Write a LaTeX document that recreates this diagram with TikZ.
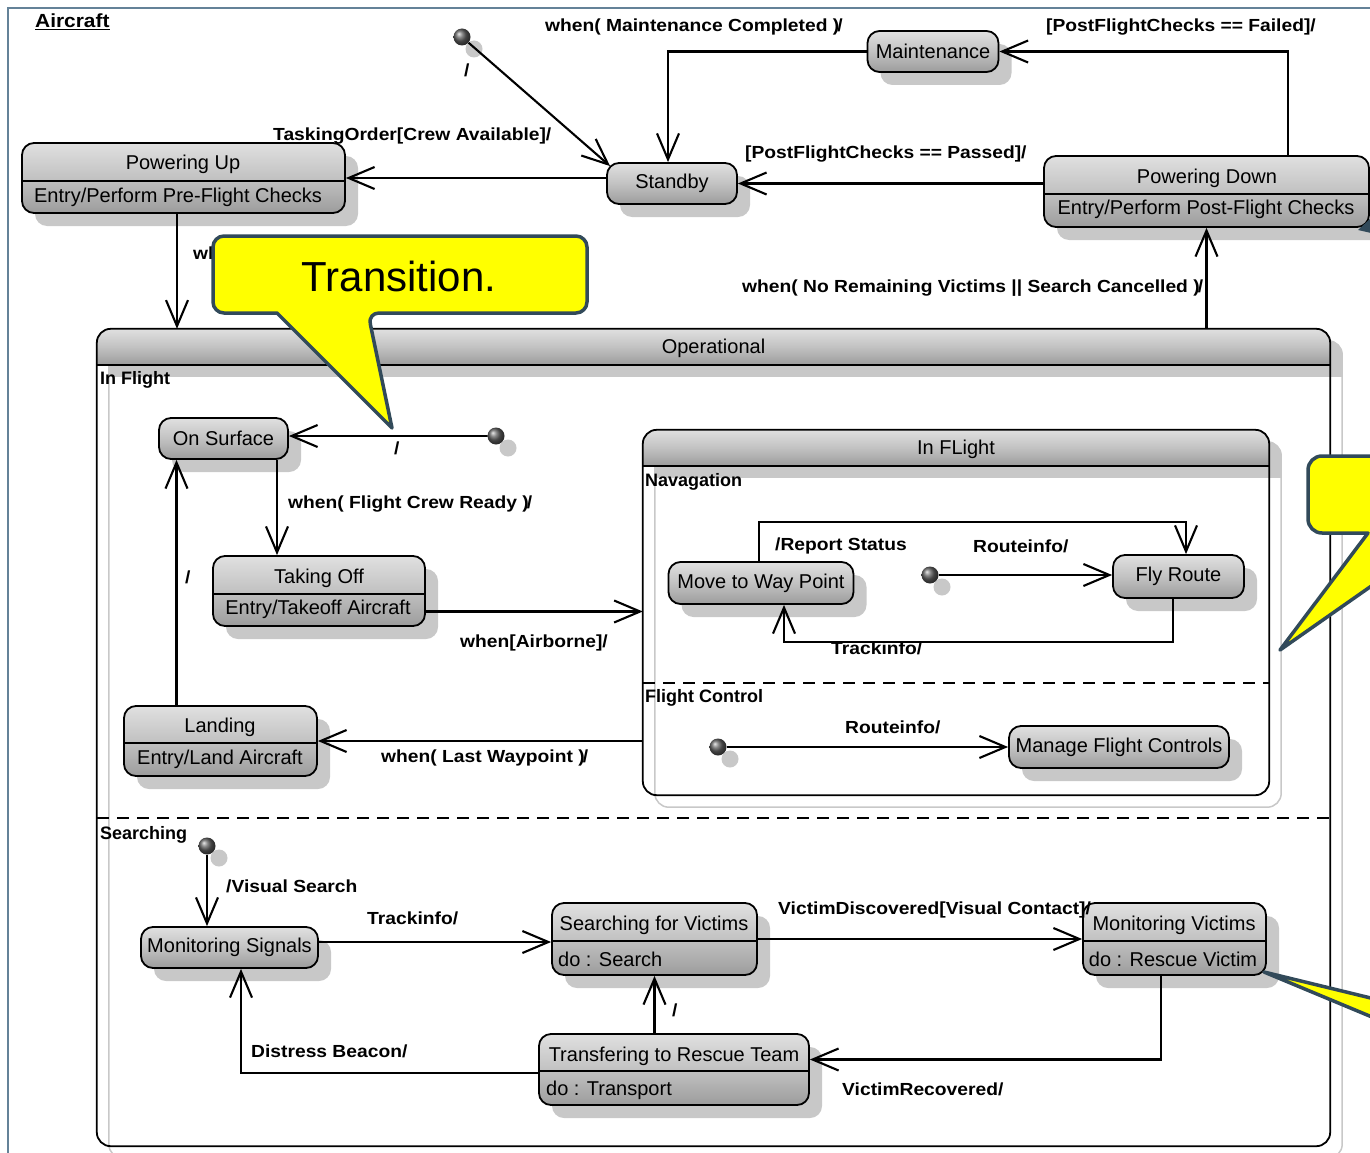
\documentclass[tikz,border=0pt]{standalone}
\usepackage{fontspec}
\setmainfont{Liberation Sans}
\newfontfamily\lblfont{Liberation Sans}[FakeStretch=1.1]
\usetikzlibrary{arrows.meta,calc,shadows}

\definecolor{stlight}{RGB}{224,224,224}
\definecolor{stmid}{RGB}{194,194,194}
\definecolor{stdark}{RGB}{156,156,156}
\definecolor{shadowgray}{RGB}{200,200,200}
\definecolor{framecol}{RGB}{100,130,152}
\definecolor{noteyellow}{RGB}{255,255,0}
\definecolor{noteedge}{RGB}{50,74,90}

\tikzset{
  state/.style={draw=black, line width=1.8pt, rounded corners=12pt,
    top color=stlight, bottom color=stdark, middle color=stmid,
    inner sep=0pt, font=\fontsize{20}{24}\selectfont,
    drop shadow={shadow xshift=13pt, shadow yshift=-13pt, fill=shadowgray, opacity=1}},
  stxt/.style={inner sep=0pt, font=\fontsize{20}{24}\selectfont},
  lbl/.style={inner sep=0pt, anchor=west, font=\lblfont\bfseries\fontsize{17.5}{20}\selectfont},
  rgn/.style={inner sep=0pt, anchor=west, font=\bfseries\fontsize{18}{20}\selectfont},
  conn/.style={line width=2.1pt, -{Straight Barb[length=26pt,width=22pt,line width=2.1pt]}},
  initdot/.style={circle, minimum size=17pt, inner sep=0pt, ball color=gray!75!black,
    drop shadow={shadow xshift=12pt, shadow yshift=-12pt, fill=shadowgray, opacity=1}},
  note/.style={fill=noteyellow, draw=noteedge, line width=3.5pt, line join=round},
  region/.style={inner sep=0pt},
}

% composite state: node name, header height, header text
\newcommand\compbox[3]{%
  \draw[shadowgray, line width=1.5pt, rounded corners=14pt]
    ($(#1.north west)+(12,12)$) rectangle ($(#1.south east)+(12,12)$);
  \begin{scope}
    \clip[rounded corners=14pt] ($(#1.north west)+(12,12)$) rectangle ($(#1.south east)+(12,12)$);
    \fill[shadowgray] ($(#1.north west)+(12,12)$) rectangle ($(#1.north east)+(12,12+#2)$);
  \end{scope}
  \begin{scope}
    \clip[rounded corners=14pt] (#1.north west) rectangle (#1.south east);
    \shade[top color=stlight, bottom color=stdark, middle color=stmid]
      (#1.north west) rectangle ($(#1.north east)+(0,#2)$);
  \end{scope}
  \draw[line width=1.8pt, rounded corners=14pt] (#1.north west) rectangle (#1.south east);
  \draw[line width=1.8pt] ($(#1.north west)+(0,#2)$) -- ($(#1.north east)+(0,#2)$);
  \node[stxt] (#1-head) at ($(#1.north)+(0,#2/2+2)$) {#3};
}

% divider of a two-compartment state
\newcommand\divider[2]{%
  \draw[line width=1.5pt] ($(#1.north west)+(0,#2)$) -- ($(#1.north east)+(0,#2)$);
}

\begin{document}
\begin{tikzpicture}[x=1pt, y=-1pt]
\useasboundingbox (0,0) rectangle (1370,1153);
\clip (0,0) rectangle (1370,1153);
\fill[white] (0,0) rectangle (1370,1153);

% outer frame and title
\draw[framecol, line width=1.5pt] (8,1200) -- (8,8) -- (1400,8);
\node[lbl, font=\lblfont\bfseries\fontsize{19}{22}\selectfont] (title) at (35,22) {\underline{Aircraft}};

% ---------- composite states ----------
\node[region, minimum width=1233pt, minimum height=817pt] (op) at (713.5,737.5) {};
\compbox{op}{36}{Operational}
\node[region, minimum width=626pt, minimum height=365pt] (inf) at (956,612.5) {};
\compbox{inf}{36}{In FLight}

\draw[line width=1.6pt, dash pattern=on 12pt off 8pt] (97,818) -- (1330,818);
\draw[line width=1.6pt, dash pattern=on 12pt off 8pt] (643,683) -- (1269,683);

\node[rgn] (r1) at (100,380) {In Flight};
\node[rgn] (r2) at (645,482) {Navagation};
\node[rgn] (r3) at (645,698) {Flight Control};
\node[rgn] (r4) at (100,835) {Searching};

% ---------- simple states ----------
\node[state, minimum width=130pt, minimum height=41pt] (sb) at (672,183.5) {Standby};
\node[state, minimum width=131pt, minimum height=41pt] (mt) at (933,51.5) {Maintenance};
\node[state, minimum width=129pt, minimum height=41pt] (os) at (223.5,438.5) {On Surface};
\node[state, minimum width=185pt, minimum height=42pt] (mwp) at (761,583) {Move to Way Point};
\node[state, minimum width=131pt, minimum height=43pt] (fr) at (1178.5,576.5) {Fly Route};
\node[state, minimum width=220pt, minimum height=42pt] (mfc) at (1119,747) {Manage Flight Controls};
\node[state, minimum width=177pt, minimum height=41pt] (ms) at (229.5,947.5) {Monitoring Signals};

% ---------- states with an activity compartment ----------
\node[state, minimum width=323pt, minimum height=70pt] (pu) at (183.5,178) {};
\divider{pu}{39}
\node[stxt] (pu-a) at (183,164) {Powering Up};
\node[stxt] (pu-b) at (178,197) {Entry/Perform Pre-Flight Checks};

\node[state, minimum width=325pt, minimum height=71pt] (pd) at (1206.5,191.5) {};
\divider{pd}{39}
\node[stxt] (pd-a) at (1207,178) {Powering Down};
\node[stxt] (pd-b) at (1206,209) {Entry/Perform Post-Flight Checks};

\node[state, minimum width=212pt, minimum height=70pt] (to) at (319,591) {};
\divider{to}{39}
\node[stxt] (to-a) at (319,578) {Taking Off};
\node[stxt] (to-b) at (318,609) {Entry/Takeoff Aircraft};

\node[state, minimum width=193pt, minimum height=70pt] (ld) at (220.5,741) {};
\divider{ld}{38}
\node[stxt] (ld-a) at (220,727) {Landing};
\node[stxt] (ld-b) at (220,759) {Entry/Land Aircraft};

\node[state, minimum width=205pt, minimum height=72pt] (sv) at (654.5,939) {};
\divider{sv}{39}
\node[stxt] (sv-a) at (654,925) {Searching for Victims};
\node[stxt, anchor=west] (sv-b) at (558,959) {do : Search};

\node[state, minimum width=183pt, minimum height=72pt] (mv) at (1174.5,939) {};
\divider{mv}{39}
\node[stxt] (mv-a) at (1174,925) {Monitoring Victims};
\node[stxt] (mv-b) at (1173,959) {do : Rescue Victim};

\node[state, minimum width=270pt, minimum height=71pt] (tr) at (674,1069.5) {};
\divider{tr}{38}
\node[stxt] (tr-a) at (674,1056) {Transfering to Rescue Team};
\node[stxt, anchor=west] (tr-b) at (546,1090) {do : Transport};

% ---------- initial pseudo-states ----------
\node[initdot] (d0) at (462,37) {};
\node[initdot] (d1) at (496,436) {};
\node[initdot] (d2) at (930,575) {};
\node[initdot] (d3) at (718,747) {};
\node[initdot] (d4) at (207,846) {};

% ---------- transition labels ----------
\node[lbl] (l1) at (545,27) {when( Maintenance Completed )\kern-2pt/};
\node[lbl] (l2) at (1046,27) {[PostFlightChecks == Failed]/};
\node[lbl] (l3) at (745,154) {[PostFlightChecks == Passed]/};
\node[lbl] (l4) at (273,136) {TaskingOrder[Crew Available]/};
\node[lbl] (l5) at (464,70) {/};
\node[lbl] (l6) at (193,255) {when(};
\node[lbl] (l7) at (742,288) {when( No Remaining Victims || Search Cancelled )\kern-2pt/};
\node[lbl] (l8) at (394,448) {/};
\node[lbl] (l9) at (288,504) {when( Flight Crew Ready )\kern-2pt/};
\node[lbl] (l10) at (185,577) {/};
\node[lbl] (l11) at (460,643) {when[Airborne]/};
\node[lbl] (l12) at (381,758) {when( Last Waypoint )\kern-2pt/};
\node[lbl] (l13) at (775,546) {/Report Status};
\node[lbl] (l14) at (973,546) {Routeinfo/};
\node[lbl] (l15) at (831,648) {Trackinfo/};
\node[lbl] (l16) at (845,727) {Routeinfo/};
\node[lbl] (l17) at (226,886) {/Visual Search};
\node[lbl] (l18) at (367,918) {Trackinfo/};
\node[lbl] (l19) at (778,910) {VictimDiscovered[Visual Contact]/};
\node[lbl] (l20) at (672,1010) {/};
\node[lbl] (l21) at (251,1051) {Distress Beacon/};
\node[lbl] (l22) at (842,1089) {VictimRecovered/};

% ---------- transitions ----------
\coordinate (c1) at ($(sb.north west)+(4,4)$);
\draw[conn] (d0) -- (c1);
\draw[conn] (mt.west) -| ($(sb.north)+(-4,0)$);
\coordinate (c2) at ($(pd.north)+(81.5,0)$);
\draw[conn] (c2) |- (mt.east);
\draw[conn] (pd.west |- sb.east) -- (sb.east);
\draw[conn] (sb.west |- pu.east) -- (pu.east);
\coordinate (c3) at ($(pu.south)+(-6.5,0)$);
\draw[conn] (c3) -- (c3 |- op.north);
\draw[conn] (pd.south |- op.north) -- (pd.south);

\draw[conn] (d1) -- (d1 -| os.east);
\coordinate (c4) at ($(os.south)+(53.5,0)$);
\draw[conn] (c4) -- (c4 |- to.north);
\coordinate (c5) at ($(ld.north)+(-44,0)$);
\draw[conn] (c5) -- (c5 |- os.south);
\coordinate (c6) at ($(to.east)+(0,20.5)$);
\draw[conn] (c6) -- (c6 -| inf.west);
\draw[conn] (ld.east -| inf.west) -- (ld.east);

\draw[conn] (d2) -- (d2 -| fr.west);
\coordinate (c7) at ($(mwp.north)+(-2,0)$);
\coordinate (c8) at ($(fr.north)+(7.5,0)$);
\draw[conn] (c7) -- ++(0,-39) -| (c8);
\coordinate (c9) at ($(fr.south)+(-5.5,0)$);
\coordinate (c10) at ($(mwp.south)+(23,0)$);
\draw[conn] (c9) -- ++(0,43) -| (c10);
\draw[conn] (d3) -- (d3 -| mfc.west);

\draw[conn] (d4) -- (d4 |- ms.north);
\coordinate (c11) at ($(ms.east)+(0,-5.5)$);
\draw[conn] (c11) -- (c11 -| sv.west);
\draw[conn] (sv.east) -- (mv.west);
\coordinate (c12) at ($(mv.south)+(-13.5,0)$);
\coordinate (c13) at ($(tr.east)+(0,-10)$);
\draw[conn] (c12) |- (c13);
\coordinate (c14) at (tr.north -| sv.south);
\draw[conn] (c14) -- (sv.south);
\coordinate (c15) at ($(tr.west)+(0,3.5)$);
\coordinate (c16) at ($(ms.south)+(11.5,0)$);
\draw[conn] (c15) -| (c16);

% ---------- notes ----------
\draw[note] (277,313) [rounded corners=11pt] -- (213,313) -- (213,236) -- (587,236) -- (587,313) -- (368,313)
  [sharp corners] -- (392,428) -- cycle;
\node[inner sep=0pt, font=\fontsize{42}{48}\selectfont] (n1) at (399,276) {Transition.};

\draw[note] (1368,533) [rounded corners=14pt] -- (1308,533) -- (1308,456) -- (1500,456) -- (1500,533) -- (1447,533)
  [sharp corners] -- (1280,650) -- cycle;

\draw[note] (1264,972) -- (1420,1010) -- (1420,1037) -- cycle;
\fill[noteedge] (1358,230) -- (1371,218) -- (1371,233) -- cycle;
\end{tikzpicture}
\end{document}
